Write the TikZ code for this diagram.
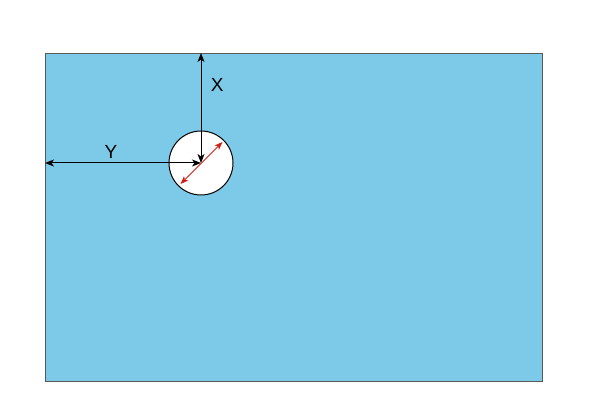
\documentclass[tikz,border=0pt]{standalone}
\usepackage{fontspec}
\setmainfont{Liberation Sans}
\usetikzlibrary{arrows.meta}
\definecolor{plate}{RGB}{125,202,232}
\definecolor{edge}{RGB}{90,90,90}
\definecolor{redline}{RGB}{210,30,20}
\tikzset{
  dim/.style={black, line width=1pt, {Stealth[length=9pt,width=7pt,inset=2.5pt]}-{Stealth[length=9pt,width=7pt,inset=2.5pt]}},
  dimred/.style={redline, line width=0.9pt, {Stealth[length=8pt,width=6pt,inset=2pt]}-{Stealth[length=8pt,width=6pt,inset=2pt]}},
  lbl/.style={font=\fontsize{19}{22}\selectfont, inner sep=0pt}
}
\begin{document}
\begin{tikzpicture}[x=1pt,y=-1pt]
\useasboundingbox (0,0) rectangle (612,419);
\fill[white] (0,0) rectangle (612,419);
\node[draw=edge, fill=plate, line width=1pt, minimum width=497pt, minimum height=328pt, inner sep=0pt, anchor=north west] (plate) at (45,53) {};
\node[draw=black, fill=white, circle, minimum size=64pt, inner sep=0pt, line width=1pt] (hole) at (201,163) {};
\coordinate (c) at (201,163);
\coordinate (top) at (201,53);
\coordinate (left) at (45,163);
\coordinate (d1) at (180.5,184);
\coordinate (d2) at (222.5,142);
\draw[dim] (top) -- (c);
\draw[dim] (left) -- (c);
\draw[dimred] (d1) -- (d2);
\node[lbl] (xl) at (217.3,84.5) {X};
\node[lbl] (yl) at (111,151.5) {Y};
\end{tikzpicture}
\end{document}
